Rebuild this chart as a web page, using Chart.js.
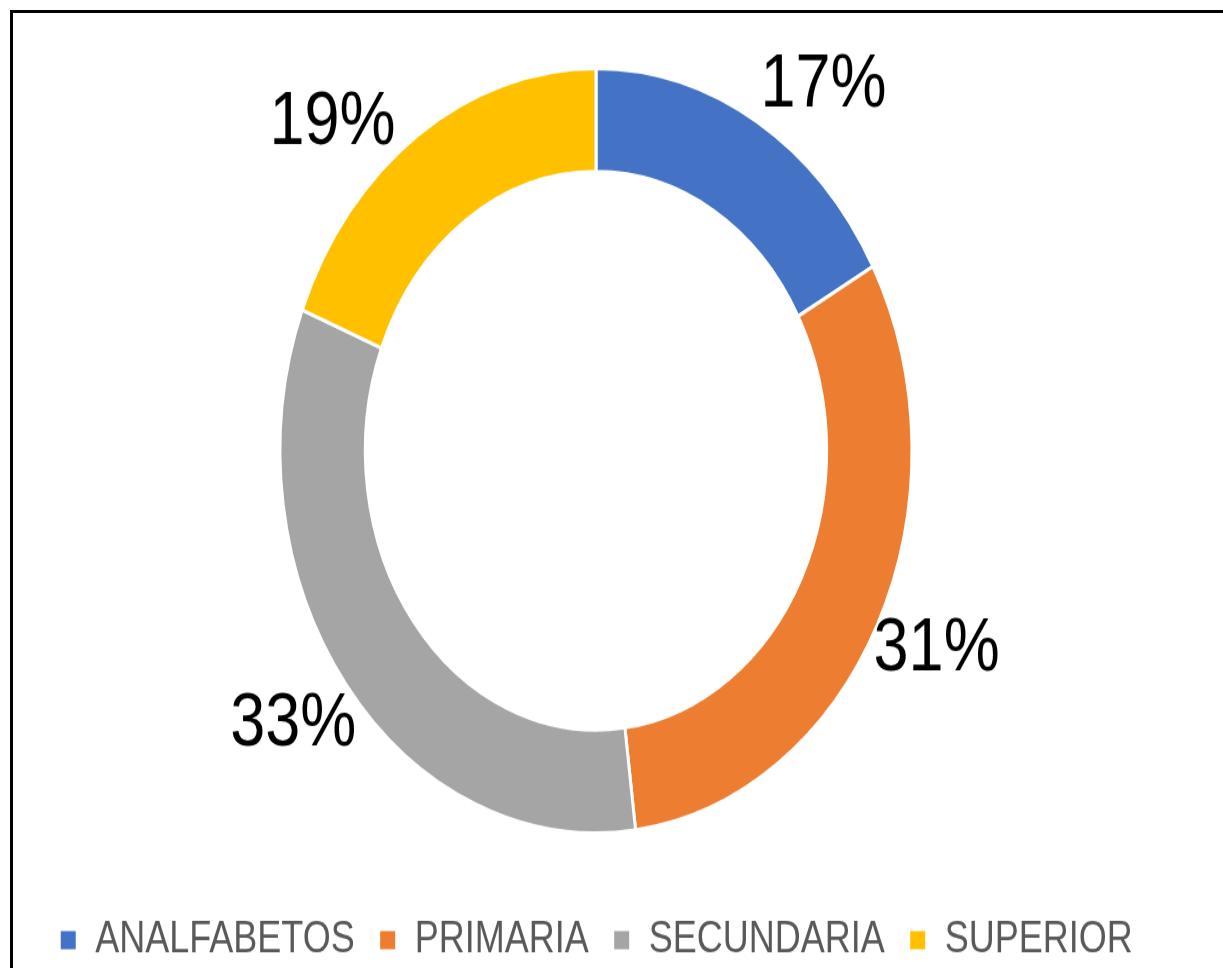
<!DOCTYPE html>
<html>
<head>
<meta charset="utf-8">
<script src="https://cdn.jsdelivr.net/npm/chart.js@4.4.1/dist/chart.umd.min.js"></script>
<style>
  html, body { margin: 0; padding: 0; background: #fff; overflow: hidden; }
  #frame { position: absolute; left: 10px; top: 10px; width: 1300px; height: 1100px;
           border-top: 3px solid #000; border-left: 3px solid #000; box-sizing: border-box; }
  #stretch { position: absolute; left: 0; top: 0; width: 1223px; height: 800px;
             transform: scaleY(1.21); transform-origin: 0 0; }
</style>
</head>
<body>
<div id="frame"></div>
<div id="stretch"><canvas id="myChart1" width="1223" height="800"></canvas></div>
<script>
const levels = ['ANALFABETOS', 'PRIMARIA', 'SECUNDARIA', 'SUPERIOR'];
const shares = [17, 31, 33, 19];
const colors = ['#4472C4', '#ED7D31', '#A5A5A5', '#FFC000'];

// small angle nudges (degrees) for the outside labels, like the hand-placed ones in the original
const labelShift = [6.4, -1.3, 1, -10];

const outsideLabels = {
    id: 'outsideLabels',
    afterDatasetsDraw(chart) {
        const ctx = chart.ctx;
        const meta = chart.getDatasetMeta(0);
        const total = shares.reduce((a, b) => a + b, 0);
        ctx.save();
        ctx.font = '63px "Liberation Sans", Arial, sans-serif';
        ctx.fillStyle = '#000';
        ctx.textAlign = 'center';
        ctx.textBaseline = 'middle';
        meta.data.forEach((arc, i) => {
            const mid = (arc.startAngle + arc.endAngle) / 2 + labelShift[i] * Math.PI / 180;
            const r = arc.outerRadius + 62;
            const x = arc.x + Math.cos(mid) * r;
            const y = arc.y + Math.sin(mid) * r;
            ctx.fillText(Math.round(shares[i] / total * 100) + '%', x, y);
        });
        ctx.restore();
    }
};

const ctx = document.getElementById('myChart1').getContext('2d');

new Chart(ctx, {
    type: 'doughnut',
    data: {
        labels: levels,
        datasets: [{
            data: shares,
            backgroundColor: colors,
            borderColor: '#fff',
            borderWidth: 3,
            hoverOffset: 0
        }]
    },
    options: {
        responsive: false,
        devicePixelRatio: 1,
        animation: false,
        radius: 316,
        cutout: '73%',
        layout: {
            padding: { left: 0, right: 31, top: 10, bottom: -5 }
        },
        plugins: {
            legend: {
                position: 'bottom',
                labels: {
                    boxWidth: 18,
                    boxHeight: 18,
                    padding: 24,
                    color: '#595959',
                    font: { family: '"Liberation Sans", Arial, sans-serif', size: 36 }
                }
            },
            tooltip: { enabled: false }
        }
    },
    plugins: [outsideLabels]
});
</script>
</body>
</html>
